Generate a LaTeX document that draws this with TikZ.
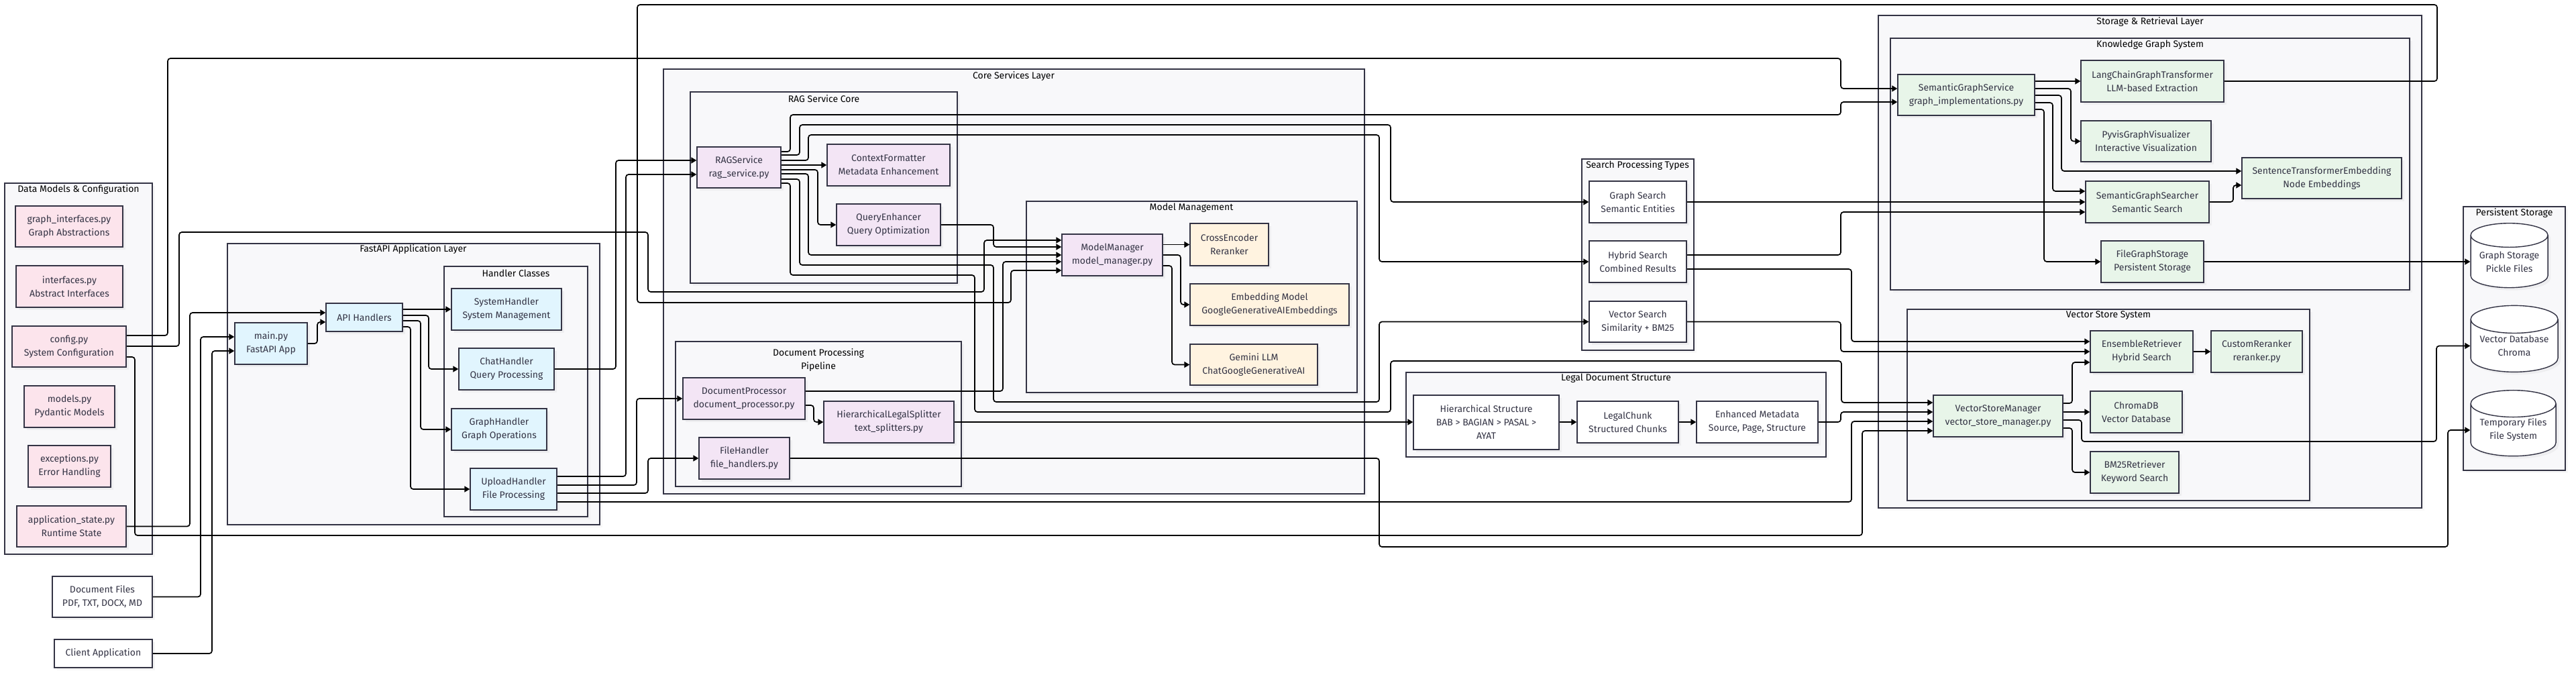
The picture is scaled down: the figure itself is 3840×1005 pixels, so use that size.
\documentclass[tikz,border=0pt]{standalone}
\usepackage{fontspec}
\setmainfont{Fira Sans}
\usetikzlibrary{arrows.meta,positioning,shapes.geometric,shadows}
\definecolor{ink}{HTML}{333344}
\definecolor{grpfill}{HTML}{F8F8FA}
\definecolor{cfgpink}{HTML}{FCE4EC}
\definecolor{apiblue}{HTML}{E1F5FE}
\definecolor{corepurple}{HTML}{F3E5F5}
\definecolor{modelpeach}{HTML}{FFF3E0}
\definecolor{storegreen}{HTML}{E8F5E9}
\pgfdeclarelayer{bg}
\pgfdeclarelayer{wires}
\pgfsetlayers{bg,wires,main}
\tikzset{
  box/.style={draw=ink, line width=1.4pt, fill=white, text=ink, align=center,
    inner sep=0pt, drop shadow={opacity=0.08, shadow xshift=4pt, shadow yshift=-4pt}},
  sz/.style 2 args={minimum width=#1pt, minimum height=#2pt},
  cfgbox/.style={box, fill=cfgpink},
  apibox/.style={box, fill=apiblue},
  corebox/.style={box, fill=corepurple},
  modelbox/.style={box, fill=modelpeach},
  storebox/.style={box, fill=storegreen},
  db/.style={box, cylinder, shape border rotate=90, aspect=0.4},
  group/.style={draw=ink, line width=1.3pt, fill=grpfill,
    drop shadow={opacity=0.06, shadow xshift=4pt, shadow yshift=-4pt}},
  gtitle/.style={text=black, align=center, inner sep=0pt},
  wire/.style={line width=1.7pt, rounded corners=4pt, ->},
}
\begin{document}
\begin{tikzpicture}[x=1pt, y=-1pt, >={Triangle[length=8pt,width=9pt]},
  font=\fontsize{14}{20}\selectfont]
  \useasboundingbox (0,0) rectangle (3840,1005);
  % Groups
  \begin{pgfonlayer}{bg}
    \draw[group] (7,273) rectangle (227,826);
    \draw[group] (339,363) rectangle (894,782);
    \draw[group] (662,397) rectangle (876,770);
    \draw[group] (989,103) rectangle (2034,736);
    \draw[group] (1029,137) rectangle (1427,422);
    \draw[group] (1530,300) rectangle (2023,585);
    \draw[group] (1007,509) rectangle (1433,725);
    \draw[group] (2358,237) rectangle (2525,522);
    \draw[group] (2096,555) rectangle (2722,681);
    \draw[group] (2800,23) rectangle (3610,757);
    \draw[group] (2818,57) rectangle (3592,432);
    \draw[group] (2843,461) rectangle (3443,746);
    \draw[group] (3672,308) rectangle (3824,701);
  \end{pgfonlayer}
  \node[gtitle] (dmct) at (117,283) {Data Models \& Configuration};
  \node[gtitle] (falt) at (616,372) {FastAPI Application Layer};
  \node[gtitle] (hclt) at (769,407) {Handler Classes};
  \node[gtitle] (cslt) at (1511,114) {Core Services Layer};
  \node[gtitle] (rsct) at (1228,147) {RAG Service Core};
  \node[gtitle] (mmgt) at (1776,310) {Model Management};
  \node[gtitle] (dppt) at (1220,537) {Document Processing\\Pipeline};
  \node[gtitle] (sptt) at (2441,247) {Search Processing Types};
  \node[gtitle] (ldst) at (2409,564) {Legal Document Structure};
  \node[gtitle] (srlt) at (3205,33) {Storage \& Retrieval Layer};
  \node[gtitle] (kgst) at (3205,67) {Knowledge Graph System};
  \node[gtitle] (vsst) at (3143,470) {Vector Store System};
  \node[gtitle] (pstt) at (3748,318) {Persistent Storage};
  % Data models and external inputs
  \node[cfgbox, sz={160}{61}] (gif) at (103,337.5) {graph\_interfaces.py\\Graph Abstractions};
  \node[cfgbox, sz={159}{62}] (ifc) at (103.5,427) {interfaces.py\\Abstract Interfaces};
  \node[cfgbox, sz={170}{61}] (cfg) at (103,516.5) {config.py\\System Configuration};
  \node[cfgbox, sz={135}{62}] (mdl) at (103.5,606) {models.py\\Pydantic Models};
  \node[cfgbox, sz={123}{62}] (exc) at (103.5,695) {exceptions.py\\Error Handling};
  \node[cfgbox, sz={163}{61}] (app) at (106.5,784.5) {application\_state.py\\Runtime State};
  \node[box, sz={149}{61}] (docs) at (152.5,889.5) {Document Files\\PDF, TXT, DOCX, MD};
  \node[box, sz={146}{42}] (client) at (154,974) {Client Application};
  % FastAPI layer
  \node[apibox, sz={108}{62}] (main) at (404,512) {main.py\\FastAPI App};
  \node[apibox, sz={114}{42}] (api) at (543,473) {API Handlers};
  \node[apibox, sz={164}{62}] (sys) at (755,461) {SystemHandler\\System Management};
  \node[apibox, sz={142}{62}] (chat) at (755,550) {ChatHandler\\Query Processing};
  \node[apibox, sz={142}{62}] (gh) at (744,640) {GraphHandler\\Graph Operations};
  \node[apibox, sz={129}{62}] (up) at (765.5,729) {UploadHandler\\File Processing};
  % Core services
  \node[corebox, sz={125}{61}] (rag) at (1101.5,249.5) {RAGService\\rag\_service.py};
  \node[corebox, sz={183}{62}] (cf) at (1324.5,246) {ContextFormatter\\Metadata Enhancement};
  \node[corebox, sz={155}{62}] (qe) at (1324.5,335) {QueryEnhancer\\Query Optimization};
  \node[corebox, sz={150}{62}] (mm) at (1658,380) {ModelManager\\model\_manager.py};
  \node[modelbox, sz={117}{63}] (ce) at (1832.5,364.5) {CrossEncoder\\Reranker};
  \node[modelbox, sz={237}{62}] (emb) at (1892.5,454) {Embedding Model\\GoogleGenerativeAIEmbeddings};
  \node[modelbox, sz={190}{61}] (gem) at (1869,543.5) {Gemini LLM\\ChatGoogleGenerativeAI};
  \node[corebox, sz={182}{62}] (dp) at (1109,594) {DocumentProcessor\\document\_processor.py};
  \node[corebox, sz={194}{62}] (hls) at (1325,629) {HierarchicalLegalSplitter\\text\_splitters.py};
  \node[corebox, sz={135}{62}] (fh) at (1109.5,683) {FileHandler\\file\_handlers.py};
  % Search types and legal structure
  \node[box, sz={145}{62}] (gsr) at (2441.5,301) {Graph Search\\Semantic Entities};
  \node[box, sz={145}{62}] (hyb) at (2441.5,390) {Hybrid Search\\Combined Results};
  \node[box, sz={145}{61}] (vsr) at (2441.5,479.5) {Vector Search\\Similarity + BM25};
  \node[box, sz={217}{81}] (hs) at (2215.5,629.5) {Hierarchical Structure\\BAB > BAGIAN > PASAL >\\AYAT};
  \node[box, sz={151}{62}] (lc) at (2426.5,629) {LegalChunk\\Structured Chunks};
  \node[box, sz={181}{62}] (em) at (2619.5,629) {Enhanced Metadata\\Source, Page, Structure};
  % Storage and retrieval
  \node[storebox, sz={204}{61}] (sgs) at (2931,141.5) {SemanticGraphService\\graph\_implementations.py};
  \node[storebox, sz={213}{62}] (lct) at (3208.5,121) {LangChainGraphTransformer\\LLM-based Extraction};
  \node[storebox, sz={194}{61}] (pyv) at (3199,210.5) {PyvisGraphVisualizer\\Interactive Visualization};
  \node[storebox, sz={184}{62}] (sgsr) at (3201,301) {SemanticGraphSearcher\\Semantic Search};
  \node[storebox, sz={238}{61}] (ste) at (3461,265.5) {SentenceTransformerEmbedding\\Node Embeddings};
  \node[storebox, sz={153}{62}] (fgs) at (3208.5,390) {FileGraphStorage\\Persistent Storage};
  \node[storebox, sz={193}{62}] (vsm) at (2978.5,620) {VectorStoreManager\\vector\_store\_manager.py};
  \node[storebox, sz={153}{62}] (ens) at (3192.5,524) {EnsembleRetriever\\Hybrid Search};
  \node[storebox, sz={136}{62}] (rr) at (3364,524) {CustomReranker\\reranker.py};
  \node[storebox, sz={137}{62}] (chr) at (3184.5,614) {ChromaDB\\Vector Database};
  \node[storebox, sz={132}{62}] (bm) at (3182,704) {BM25Retriever\\Keyword Search};
  \node[db, sz={115}{96}] (gst) at (3740.5,390) {Graph Storage\\Pickle Files};
  \node[db, sz={130}{99}] (vdb) at (3748,515.5) {Vector Database\\Chroma};
  \node[db, sz={127}{98}] (tmp) at (3746.5,641) {Temporary Files\\File System};
  % Connectors
  \begin{pgfonlayer}{wires}
    % config and entry points
    \draw[wire] (cfg.east |- 0,500) -| (250,87) -| (2744,132) -- (sgs.west |- 0,132);
    \draw[wire] (cfg.east |- 0,516) -| (267,346) -| (966,435) -| (1467,358) -- (mm.west |- 0,358);
    \draw[wire] (cfg.east |- 0,532) -| (201,798) -| (2776,642) -- (vsm.west |- 0,642);
    \draw[wire] (app.east) -| (283,466) -- (api.west |- 0,466);
    \draw[wire] (docs.east) -| (299,502) -- (main.west |- 0,502);
    \draw[wire] (client.east) -| (316,523) -- (main.west |- 0,523);
    \draw[wire] (main.east) -| (473,480) -- (api.west |- 0,480);
    % handlers
    \draw[wire] (api.east |- 0,461) -- (sys.west);
    \draw[wire] (api.east |- 0,470) -| (639,550) -- (chat.west);
    \draw[wire] (api.east |- 0,478) -| (627,640) -- (gh.west);
    \draw[wire] (api.east |- 0,487) -| (612,729) -- (up.west);
    \draw[wire] (chat.east) -| (918,239) -- (rag.west |- 0,239);
    \draw[wire] (up.east |- 0,710) -| (933,260) -- (rag.west |- 0,260);
    \draw[wire] (up.east |- 0,723) -| (949,594) -- (dp.west);
    \draw[wire] (up.east |- 0,735) -| (966,683) -- (fh.west);
    \draw[wire] (up.east |- 0,748) -| (2760,628) -- (vsm.west |- 0,628);
    % RAG service
    \draw[wire] (rag.east |- 0,226) -| (1178,171) -| (2744,152) -- (sgs.west |- 0,152);
    \draw[wire] (rag.east |- 0,231) -| (1192,186) -| (2073,301) -- (gsr.west);
    \draw[wire] (rag.east |- 0,239) -| (1205,201) -| (2056,390) -- (hyb.west);
    \draw[wire] (rag.east |- 0,246) -- (cf.west);
    \draw[wire] (rag.east |- 0,253) -| (1219,335) -- (qe.west);
    \draw[wire] (rag.east |- 0,259) -| (1205,380) -- (mm.west);
    \draw[wire] (rag.east |- 0,267) -| (1192,395) -| (1481,599) -| (2056,479.5) -- (vsr.west);
    \draw[wire] (rag.east |- 0,273) -| (1178,410) -| (1453,614) -| (2073,538) -| (2745,600) -- (vsm.west |- 0,600);
    % model management
    \draw[wire] (qe.east) -| (1481,368) -- (mm.west |- 0,368);
    \draw[wire] (lct.east) -| (3633,7) -| (950,451) -| (1507,403) -- (mm.west |- 0,403);
    \draw[wire] (dp.east |- 0,583) -| (1495,390) -- (mm.west |- 0,390);
    \draw[wire] (mm.east |- 0,364.5) -- (ce.west);
    \draw[wire] (mm.east |- 0,380) -| (1760,454) -- (emb.west);
    \draw[wire] (mm.east |- 0,396) -| (1747,543.5) -- (gem.west);
    % document pipeline
    \draw[wire] (dp.east |- 0,604) -| (1213,629) -- (hls.west);
    \draw[wire] (hls.east) -- (hs.west |- 0,629);
    \draw[wire] (fh.east) -| (2056,815) -| (3649,641) -- (tmp.west);
    \draw[wire] (hs.east |- 0,629) -- (lc.west);
    \draw[wire] (lc.east) -- (em.west);
    \draw[wire] (em.east) -| (2744,614) -- (vsm.west |- 0,614);
    % search types
    \draw[wire] (gsr.east) -- (sgsr.west);
    \draw[wire] (hyb.east |- 0,380) -| (2744,316) -- (sgsr.west |- 0,316);
    \draw[wire] (hyb.east |- 0,401) -| (2760,509) -- (ens.west |- 0,509);
    \draw[wire] (vsr.east) -| (2744,524) -- (ens.west);
    % knowledge graph
    \draw[wire] (sgs.east |- 0,121) -- (lct.west);
    \draw[wire] (sgs.east |- 0,132) -| (3087,210.5) -- (pyv.west);
    \draw[wire] (sgs.east |- 0,142) -| (3073,255) -- (ste.west |- 0,255);
    \draw[wire] (sgs.east |- 0,153) -| (3060,285) -- (sgsr.west |- 0,285);
    \draw[wire] (sgs.east |- 0,163) -| (3047,390) -- (fgs.west);
    \draw[wire] (sgsr.east) -| (3329,276) -- (ste.west |- 0,276);
    \draw[wire] (fgs.east) -- (gst.west);
    % vector store
    \draw[wire] (vsm.east |- 0,601) -| (3089,540) -- (ens.west |- 0,540);
    \draw[wire] (vsm.east |- 0,614) -- (chr.west);
    \draw[wire] (vsm.east |- 0,626) -| (3103,658) -| (3632,515.5) -- (vdb.west);
    \draw[wire] (vsm.east |- 0,638) -| (3089,704) -- (bm.west);
    \draw[wire] (ens.east) -- (rr.west);
  \end{pgfonlayer}
\end{tikzpicture}
\end{document}
